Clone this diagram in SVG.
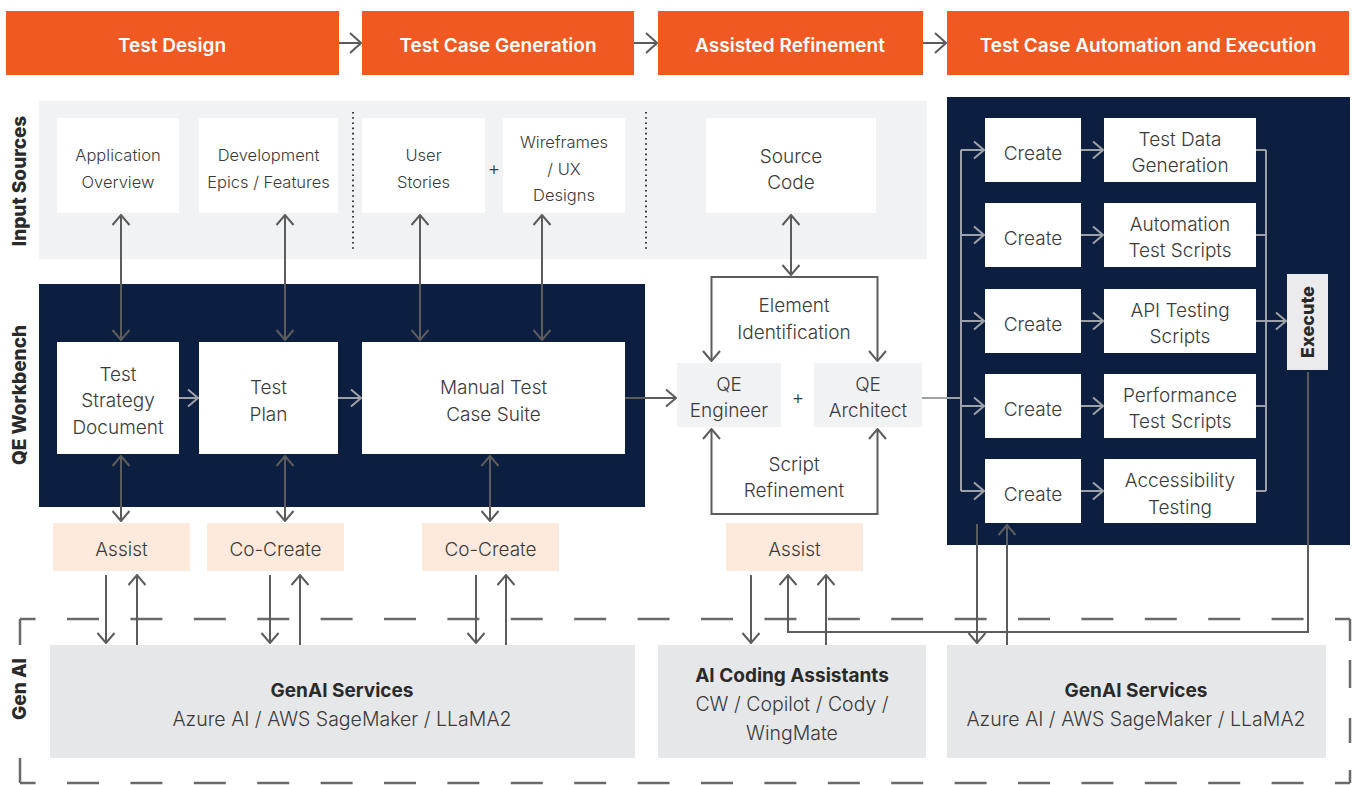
<svg xmlns="http://www.w3.org/2000/svg" width="1352" height="785" viewBox="0 0 1352 785">
<defs>
<style>
.t{font-family:Inter,"Liberation Sans",sans-serif;fill:#3a3a3a;font-size:19px;text-anchor:middle;font-weight:300}
.ts{font-size:16.5px}
.tl{font-size:19.5px}
.b{font-weight:700;fill:#2a2a2a}
.hd{font-family:Inter,"Liberation Sans",sans-serif;fill:#ffffff;font-size:19px;font-weight:600;text-anchor:middle}
.vl{font-family:Inter,"Liberation Sans",sans-serif;fill:#2a2a2a;font-size:19px;font-weight:800;text-anchor:middle}
.orange{fill:#f05a22}
.navy{fill:#0c1f41}
.wbox{fill:#ffffff}
.gbox{fill:#f1f2f4}
.peach{fill:#fdeadd}
.gen{fill:#e6e7e9}
.c{fill:none;stroke:#5c5c5c;stroke-width:2}
.cl{fill:none;stroke:#9ea2a8;stroke-width:2}
.dash{fill:none;stroke:#6a6a6a;stroke-width:2.5}
</style>
<marker id="ad" viewBox="-12 -10 13 20" markerWidth="13" markerHeight="20" refX="0" refY="0" orient="auto-start-reverse" markerUnits="userSpaceOnUse"><path d="M-10,-8.5 L0,0 L-10,8.5" fill="none" stroke="#5c5c5c" stroke-width="2"/></marker>
<marker id="al" viewBox="-12 -10 13 20" markerWidth="13" markerHeight="20" refX="0" refY="0" orient="auto-start-reverse" markerUnits="userSpaceOnUse"><path d="M-10,-8.5 L0,0 L-10,8.5" fill="none" stroke="#9ea2a8" stroke-width="2"/></marker>
<marker id="at" viewBox="-13 -11 14 22" markerWidth="14" markerHeight="22" refX="0" refY="0" orient="auto" markerUnits="userSpaceOnUse"><path d="M-11,-10 L0,0 L-11,10" fill="none" stroke="#5c5c5c" stroke-width="2"/></marker>
</defs>
<rect width="1352" height="785" fill="#ffffff"/>

<!-- panels -->
<g id="panels">
<rect x="39" y="101" width="888" height="158" class="gbox"/>
<rect x="39" y="284" width="606" height="223" class="navy"/>
<rect x="947" y="97" width="403" height="448" class="navy"/>
<path d="M353 112 V250 M646 112 V250" fill="none" stroke="#3a3a3a" stroke-width="2" stroke-dasharray="1.6 3.6"/>
</g>

<!-- section labels -->
<g id="labels">
<text class="vl" transform="translate(26 181) rotate(-90)">Input Sources</text>
<text class="vl" transform="translate(26 395) rotate(-90)">QE Workbench</text>
<text class="vl" transform="translate(26 689) rotate(-90)">Gen AI</text>
</g>

<!-- Gen AI dashed frame -->
<g id="genai-frame">
<path class="dash" d="M20 619 H1350" stroke-dasharray="32 31.4" stroke-dashoffset="16.4"/>
<path class="dash" d="M20 783 H1350" stroke-dasharray="32 31.4" stroke-dashoffset="16.4"/>
<path class="dash" d="M20 619 V645 M20 758 V783"/>
<path class="dash" d="M1350 619 V641 M1350 660 V688 M1350 718 V743 M1350 770 V783"/>
</g>

<!-- phase headers -->
<g id="phase-test-design"><rect x="6" y="11" width="333" height="64" class="orange"/><text class="hd" x="172" y="52">Test Design</text></g>
<g id="phase-test-case-generation"><rect x="362" y="11" width="272" height="64" class="orange"/><text class="hd" x="498" y="52">Test Case Generation</text></g>
<g id="phase-assisted-refinement"><rect x="658" y="11" width="265" height="64" class="orange"/><text class="hd" x="790" y="52">Assisted Refinement</text></g>
<g id="phase-automation"><rect x="947" y="11" width="402" height="64" class="orange"/><text class="hd" x="1148" y="52">Test Case Automation and Execution</text></g>

<!-- input sources -->
<g id="application-overview"><rect x="57" y="118" width="122" height="95" class="wbox"/><text class="t ts" x="118" y="161">Application</text><text class="t ts" x="118" y="188">Overview</text></g>
<g id="development-epics"><rect x="199" y="118" width="139" height="95" class="wbox"/><text class="t ts" x="268.5" y="161">Development</text><text class="t ts" x="268.5" y="188">Epics / Features</text></g>
<g id="user-stories"><rect x="362" y="118" width="123" height="95" class="wbox"/><text class="t ts" x="423.5" y="161">User</text><text class="t ts" x="423.5" y="188">Stories</text></g>
<text class="t" x="494" y="175">+</text>
<g id="wireframes"><rect x="503" y="118" width="122" height="95" class="wbox"/><text class="t ts" x="564" y="148">Wireframes</text><text class="t ts" x="564" y="175">/ UX</text><text class="t ts" x="564" y="201">Designs</text></g>
<g id="source-code"><rect x="706" y="118" width="170" height="95" class="wbox"/><text class="t" x="791" y="163">Source</text><text class="t" x="791" y="189">Code</text></g>

<!-- QE workbench -->
<g id="test-strategy"><rect x="57" y="342" width="122" height="112" class="wbox"/><text class="t" x="118" y="381">Test</text><text class="t" x="118" y="407">Strategy</text><text class="t" x="118" y="434">Document</text></g>
<g id="test-plan"><rect x="199" y="342" width="139" height="112" class="wbox"/><text class="t" x="268.5" y="394">Test</text><text class="t" x="268.5" y="421">Plan</text></g>
<g id="manual-test-suite"><rect x="362" y="342" width="263" height="112" class="wbox"/><text class="t" x="493.5" y="394">Manual Test</text><text class="t" x="493.5" y="421">Case Suite</text></g>

<!-- assist boxes -->
<g id="assist-1"><rect x="53" y="523" width="137" height="48" class="peach"/><text class="t" x="121.5" y="556">Assist</text></g>
<g id="cocreate-1"><rect x="207" y="523" width="137" height="48" class="peach"/><text class="t" x="275.5" y="556">Co-Create</text></g>
<g id="cocreate-2"><rect x="422" y="523" width="137" height="48" class="peach"/><text class="t" x="490.5" y="556">Co-Create</text></g>
<g id="assist-2"><rect x="726" y="523" width="137" height="48" class="peach"/><text class="t" x="794.5" y="556">Assist</text></g>

<!-- refinement -->
<text class="t" x="794" y="312">Element</text>
<text class="t" x="794" y="339">Identification</text>
<g id="qe-engineer"><rect x="677" y="363" width="104" height="64" class="gbox"/><text class="t" x="729" y="391">QE</text><text class="t" x="729" y="417">Engineer</text></g>
<text class="t" x="798" y="404">+</text>
<g id="qe-architect"><rect x="814" y="363" width="108" height="64" class="gbox"/><text class="t" x="868" y="391">QE</text><text class="t" x="868" y="417">Architect</text></g>
<text class="t" x="794" y="471">Script</text>
<text class="t" x="794" y="497">Refinement</text>

<!-- automation -->
<g id="create-1"><rect x="985" y="118" width="96" height="64" class="wbox"/><text class="t" x="1033" y="160">Create</text></g>
<g id="test-data"><rect x="1104" y="118" width="152" height="64" class="wbox"/><text class="t" x="1180" y="146">Test Data</text><text class="t" x="1180" y="172">Generation</text></g>
<g id="create-2"><rect x="985" y="203" width="96" height="64" class="wbox"/><text class="t" x="1033" y="245">Create</text></g>
<g id="automation-scripts"><rect x="1104" y="203" width="152" height="64" class="wbox"/><text class="t" x="1180" y="231">Automation</text><text class="t" x="1180" y="257">Test Scripts</text></g>
<g id="create-3"><rect x="985" y="289" width="96" height="64" class="wbox"/><text class="t" x="1033" y="331">Create</text></g>
<g id="api-scripts"><rect x="1104" y="289" width="152" height="64" class="wbox"/><text class="t" x="1180" y="317">API Testing</text><text class="t" x="1180" y="343">Scripts</text></g>
<g id="create-4"><rect x="985" y="374" width="96" height="64" class="wbox"/><text class="t" x="1033" y="416">Create</text></g>
<g id="performance-scripts"><rect x="1104" y="374" width="152" height="64" class="wbox"/><text class="t" x="1180" y="402">Performance</text><text class="t" x="1180" y="428">Test Scripts</text></g>
<g id="create-5"><rect x="985" y="459" width="96" height="64" class="wbox"/><text class="t" x="1033" y="501">Create</text></g>
<g id="accessibility"><rect x="1104" y="459" width="152" height="64" class="wbox"/><text class="t" x="1180" y="487">Accessibility</text><text class="t" x="1180" y="514">Testing</text></g>
<g id="execute"><rect x="1287" y="274" width="41" height="96" fill="#ebebed"/><text class="vl" style="font-size:18px" transform="translate(1314 322) rotate(-90)">Execute</text></g>

<!-- Gen AI -->
<g id="genai-left"><rect x="50" y="645" width="585" height="113" class="gen"/><text class="t b" x="342" y="697">GenAI Services</text><text class="t tl" x="342" y="726">Azure AI / AWS SageMaker / LLaMA2</text></g>
<g id="ai-coding"><rect x="658" y="645" width="268" height="113" class="gen"/><text class="t b" x="792" y="682">AI Coding Assistants</text><text class="t tl" x="792" y="711">CW / Copilot / Cody /</text><text class="t tl" x="792" y="740">WingMate</text></g>
<g id="genai-right"><rect x="947" y="645" width="379" height="113" class="gen"/><text class="t b" x="1136" y="697">GenAI Services</text><text class="t tl" x="1136" y="726">Azure AI / AWS SageMaker / LLaMA2</text></g>

<!-- connectors -->
<g id="connectors">
<path class="c" d="M339 43 H361" marker-end="url(#at)"/>
<path class="c" d="M634 43 H657" marker-end="url(#at)"/>
<path class="c" d="M923 43 H946" marker-end="url(#at)"/>

<path class="c" d="M121 215 V340" marker-start="url(#ad)" marker-end="url(#ad)"/>
<path class="c" d="M285 215 V340" marker-start="url(#ad)" marker-end="url(#ad)"/>
<path class="c" d="M420 215 V340" marker-start="url(#ad)" marker-end="url(#ad)"/>
<path class="c" d="M542 215 V340" marker-start="url(#ad)" marker-end="url(#ad)"/>

<path class="cl" d="M179 398 H198" marker-end="url(#al)"/>
<path class="cl" d="M338 398 H361" marker-end="url(#al)"/>
<path class="c" d="M625 398 H676" marker-end="url(#ad)"/>

<path class="c" d="M121 456 V521" marker-start="url(#ad)" marker-end="url(#ad)"/>
<path class="c" d="M285 456 V521" marker-start="url(#ad)" marker-end="url(#ad)"/>
<path class="c" d="M490 456 V521" marker-start="url(#ad)" marker-end="url(#ad)"/>

<path class="c" d="M106 575 V643" marker-end="url(#ad)"/>
<path class="c" d="M137 645 V575" marker-end="url(#ad)"/>
<path class="c" d="M270 575 V643" marker-end="url(#ad)"/>
<path class="c" d="M300 645 V575" marker-end="url(#ad)"/>
<path class="c" d="M476 575 V643" marker-end="url(#ad)"/>
<path class="c" d="M506 645 V575" marker-end="url(#ad)"/>

<path class="c" d="M791 215 V275" marker-start="url(#ad)" marker-end="url(#ad)"/>
<path class="c" d="M794 277 H711.5 V361" marker-end="url(#ad)"/>
<path class="c" d="M794 277 H877.5 V361" marker-end="url(#ad)"/>
<path class="c" d="M794 514 H711.5 V429" marker-end="url(#ad)"/>
<path class="c" d="M794 514 H877.5 V429" marker-end="url(#ad)"/>

<path class="c" d="M751 575 V643" marker-end="url(#ad)"/>
<path class="c" d="M826 645 V575" marker-end="url(#ad)"/>
<path class="c" d="M1308 372 V632 H788 V575" marker-end="url(#ad)"/>
<path class="c" d="M977 524 V643" marker-end="url(#ad)"/>
<path class="c" d="M1007 645 V525" marker-end="url(#ad)"/>

<path class="cl" d="M922 398 H961"/>
<path class="cl" d="M961 150 V491"/>
<path class="cl" d="M961 150 H984" marker-end="url(#al)"/>
<path class="cl" d="M961 235 H984" marker-end="url(#al)"/>
<path class="cl" d="M961 321 H984" marker-end="url(#al)"/>
<path class="cl" d="M961 406 H984" marker-end="url(#al)"/>
<path class="cl" d="M961 491 H984" marker-end="url(#al)"/>
<path class="cl" d="M1081 150 H1103" marker-end="url(#al)"/>
<path class="cl" d="M1081 235 H1103" marker-end="url(#al)"/>
<path class="cl" d="M1081 321 H1103" marker-end="url(#al)"/>
<path class="cl" d="M1081 406 H1103" marker-end="url(#al)"/>
<path class="cl" d="M1081 491 H1103" marker-end="url(#al)"/>
<path class="cl" d="M1256 150 H1266 M1256 235 H1266 M1256 321 H1266 M1256 406 H1266 M1256 491 H1266 M1266 150 V491"/>
<path class="cl" d="M1266 321 H1286" marker-end="url(#al)"/>
</g>
</svg>
